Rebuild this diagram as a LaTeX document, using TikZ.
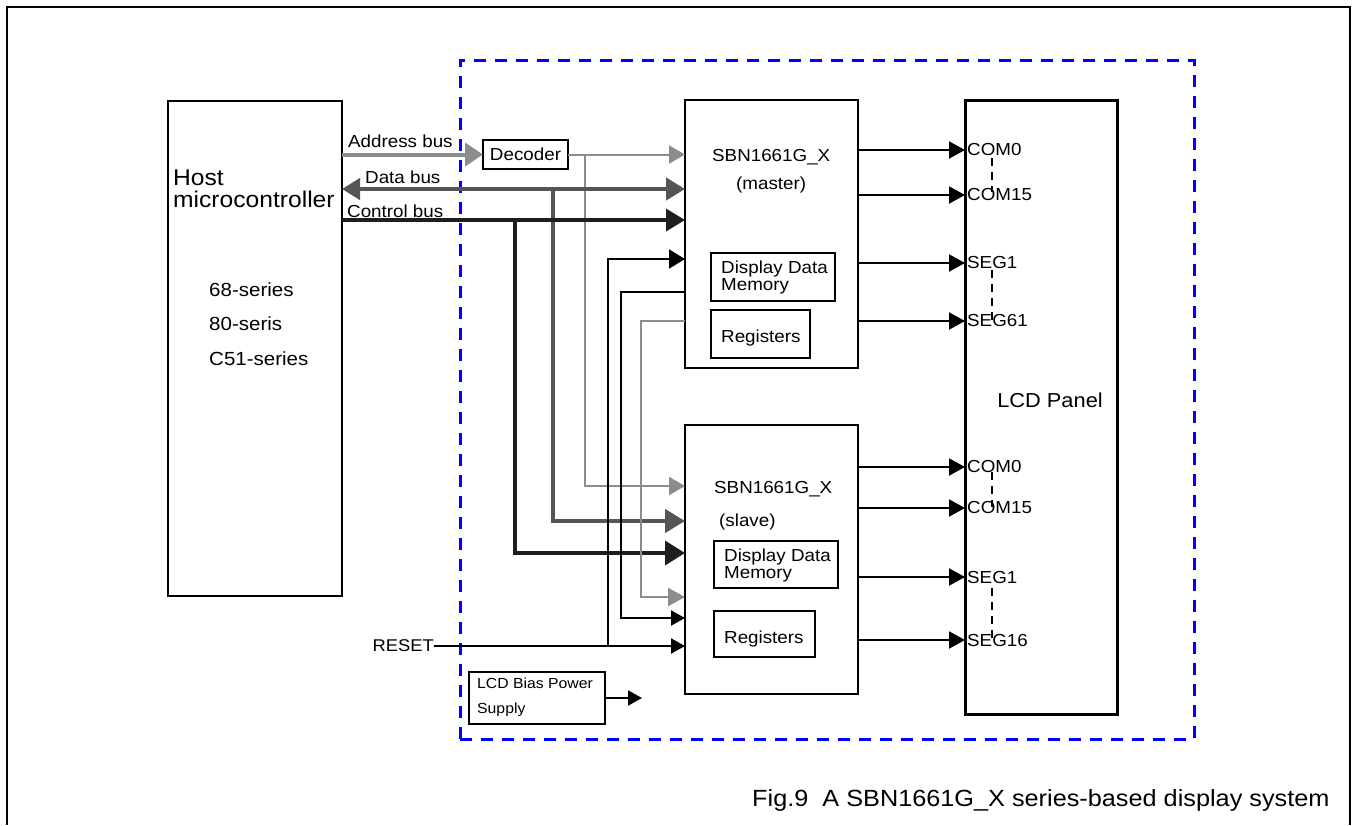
\documentclass[tikz,border=0pt]{standalone}
\usepackage{fontspec}
\setmainfont[FakeStretch=1.08]{Liberation Sans}
\usepackage{graphicx}
\usetikzlibrary{arrows.meta}
\definecolor{busgray}{HTML}{8C8C8C}
\definecolor{busdark}{HTML}{555555}
\definecolor{busblack}{HTML}{1E1E1E}
\newcommand\fs[1]{\fontsize{#1}{#1}\selectfont}
\begin{document}
\begin{tikzpicture}[x=1pt,y=-1pt,
  box/.style={draw=black, line width=2.5pt, anchor=north west, inner sep=0pt, outer sep=0pt},
  sub/.style={draw=black, line width=2pt, anchor=north west, inner sep=0pt, outer sep=0pt},
  txt/.style={anchor=base west, inner sep=0pt, font=\fs{17.4}},
  lab/.style={anchor=west, inner sep=0pt, font=\fs{17.4}},
  addr/.style={draw=busgray, line width=4pt, -{Triangle[length=18pt,width=23pt]}},
  gsig/.style={draw=busgray, line width=2pt, -{Triangle[length=16pt,width=18pt]}},
  gsigw/.style={draw=busgray, line width=2.6pt, -{Triangle[length=17pt,width=18pt]}},
  databus/.style={draw=busdark, line width=4.3pt, {Triangle[length=18pt,width=21pt]}-{Triangle[length=19pt,width=22pt]}},
  databr/.style={draw=busdark, line width=4.3pt, -{Triangle[length=20pt,width=23pt]}},
  ctrl/.style={draw=busblack, line width=3.6pt, -{Triangle[length=19pt,width=22pt]}},
  sig/.style={draw=black, line width=2pt, -{Triangle[length=14pt,width=15pt]}},
  sigb/.style={draw=black, line width=2pt, -{Triangle[length=16pt,width=19pt]}},
  outarr/.style={draw=black, line width=2pt, -{Triangle[length=16pt,width=17pt]}},
  dotsep/.style={draw=black, line width=2.5pt, dash pattern=on 8pt off 6pt}
]
\useasboundingbox (0,0) rectangle (1356,825);
% outer frame
\draw[line width=2.8pt] (6,7) -- (1351,7);
\draw[line width=1.5pt] (7,7) -- (7,825);
\draw[line width=2pt] (1350,7) -- (1350,825);
% blue system boundary
\node[draw=blue, line width=3pt, dash pattern=on 12pt off 9pt, anchor=north west, inner sep=0pt, outer sep=0pt, minimum width=734pt, minimum height=679pt] (sys) at (460,60) {};

% blocks
\node[box, line width=2.8pt, minimum width=174pt, minimum height=495pt] (host) at (168,101) {};
\node[box, minimum width=173pt, minimum height=268pt] (master) at (685,100) {};
\node[box, minimum width=173pt, minimum height=269pt] (slave) at (685,425) {};
\node[box, line width=3pt, minimum width=152pt, minimum height=614pt] (lcd) at (965,100) {};
\node[sub, minimum width=85pt, minimum height=29pt, font=\fs{17.4}] (decoder) at (483,140) {Decoder};
\node[sub, minimum width=124pt, minimum height=48pt] (mddm) at (711,253) {};
\node[sub, minimum width=99pt, minimum height=48pt] (mreg) at (711,310) {};
\node[sub, minimum width=124pt, minimum height=47pt] (sddm) at (714,541) {};
\node[sub, minimum width=101pt, minimum height=46pt] (sreg) at (714,611) {};
\node[sub, minimum width=136pt, minimum height=52pt] (bias) at (469,672) {};

% texts
\node[txt, font=\fs{22.8}] (th1) at (173,185) {Host};
\node[txt, font=\fs{22.8}] (th2) at (173,207) {microcontroller};
\node[txt, font=\fs{19}] (th3) at (209,296) {68-series};
\node[txt, font=\fs{19}] (th4) at (209,330) {80-seris};
\node[txt, font=\fs{19}] (th5) at (209,365) {C51-series};
\node[txt] (ta) at (348,147) {Address bus};
\node[txt] (td) at (365,183) {Data bus};
\node[txt] (tc) at (347,217) {Control bus};
\node[txt] (tm1) at (712,161) {SBN1661G\_X};
\node[txt] (tm2) at (736,189) {(master)};
\node[txt] (tm3) at (721,273) {Display Data};
\node[txt] (tm4) at (721,290) {Memory};
\node[txt] (tm5) at (721,342) {Registers};
\node[txt] (ts1) at (714,493) {SBN1661G\_X};
\node[txt] (ts2) at (719,526) {(slave)};
\node[txt] (ts3) at (724,561) {Display Data};
\node[txt] (ts4) at (724,578) {Memory};
\node[txt] (ts5) at (724,643) {Registers};
\node[font=\fs{20.2}, inner sep=0pt] (tl) at (1050,400) {LCD Panel};
\node[txt, font=\fs{14.6}] (tb1) at (477,688) {LCD Bias Power};
\node[txt, font=\fs{14.6}] (tb2) at (477,713) {Supply};
\node[anchor=east, inner sep=0pt, font=\fs{17}] (reset) at (434,646) {RESET};
\node[txt, font=\fs{23.4}] (cap) at (752,806) {Fig.9\ \ A SBN1661G\_X series-based display system};

% buses
\coordinate (dbr) at (553,189);
\coordinate (cbr) at (515,220);
\coordinate (abr) at (585,0);
\draw[addr] (host.east |- decoder.west) -- (decoder.west);
\draw[gsig] (decoder.east) -- (master.west |- decoder.east);
\draw[gsig] (decoder.east -| abr) |- (slave.west |- 0,486);
\draw[databus] (host.east |- dbr) -- (master.west |- dbr);
\draw[databr] (dbr) |- (slave.west |- 0,521);
\draw[ctrl] (host.east |- cbr) -- (master.west |- cbr);
\draw[ctrl, -{Triangle[length=20pt,width=24pt]}] (cbr) |- (slave.west |- 0,553);

% reset and inter-chip signals
\draw[sig] (reset.east) -- (slave.west |- reset.east);
\draw[sigb] (reset.east -| 608,0) |- (master.west |- 0,259);
\draw[sig] (master.west |- 0,292) -| (621,618) -- (slave.west |- 0,618);
\draw[gsigw] (master.west |- 0,321) -| (641,597) -- (slave.west |- 0,597);

% outputs to LCD
\foreach \y/\n in {150/COM0,195/COM15,263/SEG1,321/SEG61}{
  \draw[outarr] (master.east |- 0,\y) -- (lcd.west |- 0,\y);
  \node[lab] (m\n) at (967,\y) {\n};
}
\foreach \y/\n in {467/COM0,508/COM15,577/SEG1,640/SEG16}{
  \draw[outarr] (slave.east |- 0,\y) -- (lcd.west |- 0,\y);
  \node[lab] (s\n) at (967,\y) {\n};
}
\draw[dotsep] (992,158) -- (992,192);
\draw[dotsep] (992,270) -- (992,320);
\draw[dotsep] (992,472) -- (992,507);
\draw[dotsep] (992,588) -- (992,640);

% bias supply output
\coordinate (biasout) at (642,698);
\draw[sig] (bias.east) -- (biasout);
\end{tikzpicture}
\end{document}
